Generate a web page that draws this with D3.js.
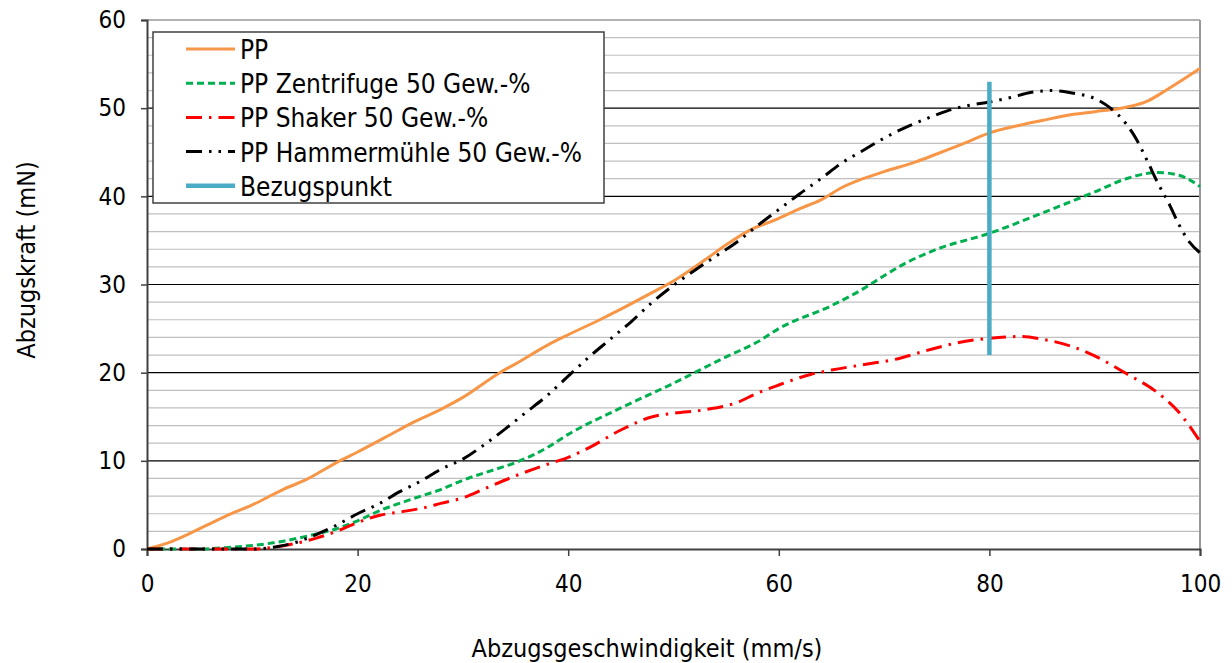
<!DOCTYPE html>
<html>
<head>
<meta charset="utf-8">
<script src="https://cdn.jsdelivr.net/npm/d3@7"></script>
<style>
  body { margin: 0; background: #fff; }
  text { font-family: "DejaVu Sans Condensed", "DejaVu Sans", sans-serif; fill: #000; }
</style>
</head>
<body>
<svg id="chart" width="1232" height="663"></svg>
<script>
// series: [speed mm/s, force mN]
const ppData = [[0,0],[2,0.7],[5,2.3],[8,4.0],[10,5.0],[13,6.8],[15,7.8],[18.3,10],[20,11.0],[23,12.9],[25,14.2],[28,15.9],[30,17.2],[33.5,20],[35,21],[38,23.1],[40,24.3],[43,26.0],[45,27.2],[48,29.1],[50,30.4],[53,32.8],[55,34.5],[57,36],[60,37.5],[62,38.6],[64,39.6],[66,41.0],[68,42.0],[70,42.8],[73,43.9],[75,44.8],[78,46.2],[80,47.2],[83,48.1],[85,48.6],[88,49.3],[90,49.6],[93,50.1],[95,50.8],[97,52.2],[100,54.5]];
const zentrifugeData = [[0,0],[5,0],[8,0.2],[10,0.4],[12,0.7],[15,1.4],[18,2.3],[20,3.2],[22,4.3],[25,5.6],[28,6.8],[30,7.8],[33,9.0],[35,9.8],[38,11.5],[40,13],[45,16],[50,18.8],[55,21.8],[58,23.5],[60,25],[65,27.6],[68,29.5],[70,31],[72,32.4],[75,34],[80,35.8],[85,38.1],[90,40.5],[93,42],[96,42.7],[98,42.4],[100,41.1]];
const shakerData = [[0,0],[5,0],[10,0],[12,0.2],[14,0.6],[16,1.2],[18,2.0],[20,3.0],[22,3.8],[24,4.2],[26,4.6],[28,5.2],[30,5.8],[32,6.8],[35,8.3],[38,9.6],[40,10.4],[42,11.5],[45,13.5],[48,15],[50,15.4],[53,15.8],[56,16.6],[58,17.7],[60,18.6],[63,19.8],[65,20.3],[68,20.9],[71,21.5],[74,22.5],[77,23.4],[80,23.9],[83,24.1],[85,23.8],[88,22.9],[90,21.9],[93,19.9],[96,17.7],[98,15.5],[100,12.2]];
const hammerData = [[0,0],[5,0],[10,0],[12,0.2],[14,0.7],[16,1.6],[18,2.7],[20,4.0],[22,5.1],[24,6.5],[26,7.7],[28,9.1],[30,10.2],[32,11.8],[34,13.6],[36,15.5],[38,17.4],[40,19.6],[42,21.8],[44,23.8],[46,25.8],[48,28],[50,29.9],[52,31.6],[54,33.2],[56,34.8],[58,36.7],[60,38.5],[62,40.3],[64,42],[66,43.8],[68,45.2],[70,46.6],[72,47.8],[74,48.8],[76,49.7],[78,50.3],[80,50.7],[82,51.2],[84,51.8],[86,52.0],[88,51.7],[90,51.1],[91.5,50.0],[93,48.2],[94,46.4],[95,44],[96,41.5],[97,39.3],[98,36.8],[99,34.8],[100,33.6]];
const bezugData = [[80,22],[80,53]];

const xTicks = [0, 20, 40, 60, 80, 100];
const yTicks = [0, 10, 20, 30, 40, 50, 60];
const yMinorTicks = d3.range(0, 61, 2);

const seriesNames = ["PP", "PP Zentrifuge 50 Gew.-%", "PP Shaker 50 Gew.-%", "PP Hammermühle 50 Gew.-%", "Bezugspunkt"];

const series = [
    { name: seriesNames[0], data: ppData, color: "#f79646", width: 3, dash: null },
    { name: seriesNames[1], data: zentrifugeData, color: "#00b050", width: 3, dash: "7,4" },
    { name: seriesNames[2], data: shakerData, color: "#ff0000", width: 3, dash: "16,7,2.5,7" },
    { name: seriesNames[3], data: hammerData, color: "#000000", width: 3, dash: "16,7,2.5,7,2.5,7" },
    { name: seriesNames[4], data: bezugData, color: "#4bacc6", width: 4.5, dash: null }
];

const layout = { left: 147, right: 1200, top: 20, bottom: 549 };

const svg = d3.select("#chart");
const x = d3.scaleLinear().domain([0, 100]).range([layout.left, layout.right]);
const y = d3.scaleLinear().domain([0, 60]).range([layout.bottom, layout.top]);

// minor grid
svg.append("g").selectAll("line").data(yMinorTicks.filter(d => d % 10 != 0)).enter()
    .append("line")
    .attr("x1", layout.left).attr("x2", layout.right)
    .attr("y1", d => y(d)).attr("y2", d => y(d))
    .attr("stroke", "#c0c0c0").attr("stroke-width", 1.2);

// major grid
svg.append("g").selectAll("line").data(yTicks.filter(d => d > 0 && d < 60)).enter()
    .append("line")
    .attr("x1", layout.left).attr("x2", layout.right)
    .attr("y1", d => y(d)).attr("y2", d => y(d))
    .attr("stroke", "#000").attr("stroke-width", 1.2);

// plot frame top / right
svg.append("line").attr("x1", layout.left).attr("x2", layout.right)
    .attr("y1", layout.top).attr("y2", layout.top).attr("stroke", "#999").attr("stroke-width", 1.5);
svg.append("line").attr("x1", layout.right).attr("x2", layout.right)
    .attr("y1", layout.top).attr("y2", layout.bottom).attr("stroke", "#999").attr("stroke-width", 2);

// axes
const leftAxis = svg.append("g")
    .attr("transform", "translate(" + layout.left + ",0)")
    .call(d3.axisLeft(y).tickValues(yTicks).tickSize(6).tickPadding(15));
const bottomAxis = svg.append("g")
    .attr("transform", "translate(0," + layout.bottom + ")")
    .call(d3.axisBottom(x).tickValues(xTicks).tickSize(7).tickPadding(19));
[leftAxis, bottomAxis].forEach(a => {
    a.select(".domain").attr("stroke", "#404040").attr("stroke-width", 2);
    a.selectAll(".tick line").attr("stroke", "#404040").attr("stroke-width", 1.5);
    a.selectAll("text").style("font-size", "24px").attr("fill", "#000");
});

// lines
const line = d3.line().x(d => x(d[0])).y(d => y(d[1])).curve(d3.curveMonotoneX);
const straight = d3.line().x(d => x(d[0])).y(d => y(d[1]));
series.forEach(s => {
    svg.append("path")
        .datum(s.data)
        .attr("d", s.name == "Bezugspunkt" ? straight : line)
        .attr("fill", "none")
        .attr("stroke", s.color)
        .attr("stroke-width", s.width)
        .attr("stroke-dasharray", s.dash);
});

// legend
const legend = svg.append("g").attr("transform", "translate(153,32)");
legend.append("rect")
    .attr("x", 0).attr("y", 0).attr("width", 451).attr("height", 171)
    .attr("fill", "#fff").attr("stroke", "#404040").attr("stroke-width", 1.5);
series.forEach((s, i) => {
    let ly = 17 + i * 34.2;
    legend.append("line")
        .attr("x1", 33).attr("x2", 82).attr("y1", ly).attr("y2", ly)
        .attr("stroke", s.color).attr("stroke-width", s.width)
        .attr("stroke-dasharray", s.dash);
    legend.append("text")
        .attr("x", 87).attr("y", ly + 10)
        .style("font-size", "26px")
        .text(s.name);
});

// axis titles
svg.append("text")
    .attr("transform", "translate(35,260) rotate(-90)")
    .attr("text-anchor", "middle")
    .style("font-size", "25px")
    .text("Abzugskraft (mN)");
svg.append("text")
    .attr("x", 647).attr("y", 657)
    .attr("text-anchor", "middle")
    .style("font-size", "25px")
    .text("Abzugsgeschwindigkeit (mm/s)");
</script>
</body>
</html>
